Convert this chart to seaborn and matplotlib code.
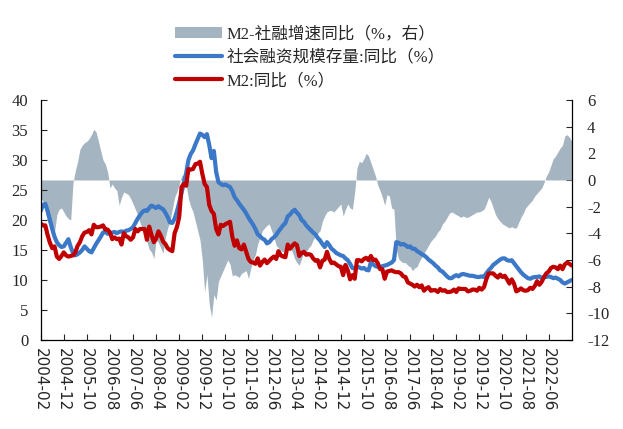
import pandas as pd
import matplotlib.pyplot as plt
import seaborn as sns
from matplotlib.patches import Patch
from matplotlib.lines import Line2D

sns.set_theme(style="ticks")
plt.rcParams['font.family'] = ['Liberation Serif', 'Noto Sans CJK SC']
plt.rcParams['axes.unicode_minus'] = False

# monthly, 2004-02 .. 2023-04
months = pd.date_range("2004-02-01", periods=231, freq="MS")

# 社会融资规模存量:同比 (%)
sf_yoy = [
    21.5, 22.5, 22.7, 21.5, 20.0, 18.5, 17.2, 16.3, 15.8, 15.5, 15.6, 16.2,
    16.8, 15.5, 14.5, 14.1, 14.3, 14.6, 15.0, 15.6, 15.2, 14.8, 14.6, 15.3,
    16.0, 16.6, 17.2, 17.9, 18.0, 17.7, 17.8, 17.9, 18.0, 17.8, 18.0, 18.1,
    18.0, 18.2, 18.3, 18.5, 18.8, 19.5, 20.2, 20.8, 21.3, 21.6, 21.5, 22.0,
    22.4, 22.2, 22.0, 22.3, 22.0, 21.8, 21.2, 20.5, 19.6, 19.5, 20.2, 21.4,
    22.9, 24.5, 26.2, 27.8, 30.0, 31.0, 31.6, 32.6, 33.5, 34.4, 34.2, 33.8,
    34.3, 32.5, 30.3, 31.5, 28.0, 26.3, 26.0, 25.8, 25.9, 25.7, 25.5, 24.8,
    23.8, 23.3, 22.7, 22.2, 21.7, 21.1, 20.4, 19.8, 19.2, 18.5, 17.6, 17.3,
    16.9, 16.7, 16.1, 16.3, 16.8, 17.1, 17.5, 18.1, 18.6, 19.1, 19.5, 20.6,
    20.9, 21.4, 21.7, 21.2, 20.8, 20.0, 19.7, 19.1, 18.7, 18.3, 17.9, 17.6,
    17.0, 16.6, 16.0, 15.5, 16.3, 15.8, 15.2, 14.9, 14.5, 14.3, 14.1, 14.0,
    13.6, 13.3, 12.7, 12.0, 11.9, 12.2, 12.1, 11.9, 12.0, 11.7, 11.6, 12.9,
    12.6, 12.3, 12.2, 12.1, 12.3, 12.4, 12.5, 12.7, 12.9, 13.3, 16.3, 16.2,
    15.9, 16.0, 15.8, 15.5, 15.6, 15.2, 15.2, 14.8, 14.6, 14.3, 14.1, 13.8,
    13.4, 13.1, 12.8, 12.4, 12.1, 11.6, 11.4, 11.0, 10.6, 10.3, 10.3, 10.6,
    10.8, 10.6, 10.9, 11.0, 10.9, 10.8, 10.7, 10.7, 10.6, 10.5, 10.5, 10.6,
    10.5, 11.1, 11.6, 12.0, 12.5, 12.8, 13.1, 13.4, 13.6, 13.6, 13.3, 13.2,
    13.3, 12.8, 12.3, 11.8, 11.3, 10.9, 10.6, 10.3, 10.2, 10.4, 10.5, 10.5,
    10.6, 10.3, 10.5, 10.5, 10.6, 10.5, 10.3, 10.4, 10.2, 10.0, 9.6, 9.4,
    9.6, 9.8, 10.0,
]

# M2:同比 (%)
m2_yoy = [
    19.4, 19.1, 19.1, 17.5, 16.2, 15.3, 15.6, 13.9, 13.5, 14.0, 14.6,
    14.1, 13.9, 14.0, 14.1, 14.6, 15.7, 16.3, 17.3, 17.9, 18.0, 18.3, 17.6,
    19.2, 18.8, 18.8, 18.9, 19.1, 18.4, 18.4, 17.9, 16.8, 17.1, 16.8, 16.9,
    15.9, 17.8, 17.3, 17.1, 16.7, 17.1, 18.5, 18.1, 18.5, 18.5, 18.5, 16.7,
    18.9, 17.5, 16.3, 16.9, 18.1, 17.4, 16.4, 16.0, 15.3, 15.0, 14.8, 17.8,
    18.8, 20.5, 25.5, 26.0, 25.7, 28.5, 28.4, 28.5, 29.3, 29.4, 29.7, 27.7,
    26.0, 25.5, 22.5, 21.5, 21.0, 18.5, 17.6, 19.2, 19.0, 19.3, 19.5, 19.7,
    17.2, 15.7, 16.6, 15.3, 15.1, 15.9, 14.7, 13.5, 13.0, 12.9, 12.7, 13.6,
    12.4, 13.0, 13.4, 12.8, 13.2, 13.6, 13.9, 13.5, 14.8, 14.1, 13.9, 13.8,
    15.9, 15.2, 15.7, 16.1, 15.8, 14.0, 14.5, 14.7, 14.2, 14.3, 14.2, 13.6,
    13.2, 13.3, 12.1, 13.2, 13.4, 14.7, 13.5, 12.8, 12.9, 12.6, 12.3, 12.2,
    10.8, 12.5, 11.6, 10.1, 10.8, 10.2, 13.3, 13.3, 13.1, 13.5, 13.7, 13.3,
    14.0, 13.3, 13.4, 12.8, 11.8, 11.8, 10.2, 11.4, 11.5, 11.6, 11.4, 11.3,
    11.3, 11.1, 10.6, 10.5, 9.6, 9.4, 9.2, 8.9, 9.2, 8.8, 9.1, 8.2,
    8.6, 8.8, 8.2, 8.3, 8.3, 8.0, 8.5, 8.2, 8.3, 8.0, 8.0, 8.1,
    8.4, 8.0, 8.6, 8.5, 8.5, 8.5, 8.1, 8.2, 8.4, 8.4, 8.2, 8.7,
    8.4, 8.8, 10.1, 11.1, 11.1, 11.1, 10.7, 10.4, 10.9, 10.5, 10.7, 10.1,
    9.4, 10.1, 9.4, 8.1, 8.3, 8.6, 8.3, 8.2, 8.3, 8.7, 8.5, 9.0,
    9.8, 9.2, 9.7, 10.5, 11.1, 11.4, 12.0, 12.2, 12.1, 11.8, 12.4, 11.8,
    12.6, 12.9, 12.7, 12.4,
]

# M2-社融增速同比 (%, right axis)
gap = [
    -1.4, -1.6, -2.4, -3.1, -3.5, -3.8, -3.9, -2.6, -2.2, -2.1, -2.4, -2.7,
    -2.9, -3.0, -0.2, 0.7, 1.4, 2.3, 2.6, 2.8, 2.9, 3.1, 3.4, 3.8,
    3.6, 2.9, 2.2, 1.5, 1.2, 0.6, -0.6, -0.3, -0.6, -0.8, -1.9, -1.3,
    -0.9, -1.0, -1.1, -1.4, -1.8, -2.2, -2.6, -3.2, -3.6, -4.0, -4.6, -5.2,
    -5.4, -5.9, -4.5, -4.7, -5.1, -5.5, -4.3, -3.6, -3.1, -2.2, -1.3, -0.9,
    -0.3, 0.3, 0.4, -0.4, -1.4, -2.0, -2.4, -3.1, -3.8, -4.5, -6.0, -8.4,
    -7.1, -9.3, -10.3, -8.6, -9.0, -7.6, -7.2, -6.8, -6.4, -6.0, -6.3, -7.2,
    -7.1, -7.2, -7.3, -7.0, -6.9, -6.8, -7.4, -6.6, -6.0, -5.6, -4.8, -4.3,
    -3.8, -3.6, -3.4, -3.3, -3.8, -4.3, -4.9, -5.1, -5.3, -5.4, -5.1, -5.0,
    -5.1, -5.4, -5.9, -6.2, -6.4, -5.9, -5.3, -5.4, -5.1, -4.9, -4.5, -4.2,
    -4.0, -3.8, -3.1, -2.7, -2.4, -2.3, -2.3, -2.4, -2.2, -2.0, -1.8, -2.7,
    -2.2, -1.8, -2.1, -2.2, -0.9, 0.9, 1.4, 1.3, 1.6, 2.0, 1.8, 1.3,
    0.8, 0.3, -0.4, -0.8, -1.3, -1.9, -1.1, -1.2, -2.1, -2.2, -5.2, -5.9,
    -6.1, -6.2, -6.2, -6.4, -6.5, -6.8, -6.6, -6.5, -6.1, -5.8, -5.5, -5.2,
    -4.9, -4.6, -4.4, -4.2, -3.9, -3.7, -3.3, -3.1, -2.8, -2.5, -2.4, -2.5,
    -2.6, -2.7, -2.8, -2.7, -2.8, -2.8, -2.7, -2.6, -2.5, -2.4, -2.4, -2.3,
    -2.2, -1.8, -1.3, -1.6, -2.1, -2.6, -2.9, -3.1, -3.3, -3.4, -3.5, -3.6,
    -3.5, -3.6, -3.6, -3.2, -2.8, -2.5, -2.1, -1.9, -1.7, -1.5, -1.2, -1.0,
    -0.8, -0.6, -0.2, 0.3, 0.6, 1.1, 1.6, 1.8, 2.1, 2.4, 2.6, 3.3,
    3.4, 3.2, 2.9,
]

labels = ["M2-社融增速同比（%，右）", "社会融资规模存量:同比（%）", "M2:同比（%）"]
c_area, c_blue, c_red = "#a4b5c1", "#3b78c8", "#c00000"

df = pd.DataFrame({"date": months, "sf": sf_yoy, "m2": m2_yoy, "gap": gap})
df["pos"] = range(len(df))
tick_pos = list(range(0, len(df) - 10, 10))
tick_lab = [d.strftime("%Y-%m") for d in df["date"].iloc[tick_pos]]

fig = plt.figure(figsize=(6.23, 4.29), dpi=100)
ax1 = fig.add_axes([0.0653, 0.2075, 0.8524, 0.5595])
ax2 = ax1.twinx()

ax2.fill_between(df["pos"], 0, df["gap"], color=c_area, linewidth=0)
sns.lineplot(data=df, x="pos", y="sf", ax=ax1, color=c_blue, linewidth=3)
sns.lineplot(data=df, x="pos", y="m2", ax=ax1, color=c_red, linewidth=3)

ax1.set_zorder(ax2.get_zorder() + 1)
ax1.patch.set_visible(False)

ax1.set_xlim(0, len(df) - 1)
ax1.set_ylim(0, 40)
ax2.set_ylim(-12, 6)
ax1.set_yticks(range(0, 41, 5))
ax2.set_yticks(range(-12, 7, 2))
ax1.set_xticks(tick_pos)
ax1.set_xticklabels(tick_lab, rotation=-90, fontsize=11, family=['DejaVu Sans'])
ax1.set_xlabel("")
ax1.set_ylabel("")

for ax in (ax1, ax2):
    ax.spines["top"].set_visible(False)
    for s in ax.spines.values():
        s.set_color("black")
        s.set_linewidth(0.9)
ax1.spines["right"].set_visible(False)
ax2.spines["left"].set_visible(False)
ax2.spines["bottom"].set_visible(False)

ax1.tick_params(axis="y", direction="in", length=4, width=0.8, labelsize=12, pad=9)
ax1.tick_params(axis="x", direction="in", length=4, width=0.8, pad=6)
ax2.tick_params(axis="y", direction="in", length=4, width=0.8, labelsize=12, pad=11)

handles = [
    Patch(facecolor=c_area, edgecolor="none"),
    Line2D([], [], color=c_blue, linewidth=3),
    Line2D([], [], color=c_red, linewidth=3),
]
fig.legend(handles, labels, loc="upper left", bbox_to_anchor=(0.281, 0.939),
           frameon=False, fontsize=12, borderpad=0, borderaxespad=0,
           handlelength=2.8, handletextpad=0.3, labelspacing=0.45)

fig.savefig("out.png", dpi=100)
